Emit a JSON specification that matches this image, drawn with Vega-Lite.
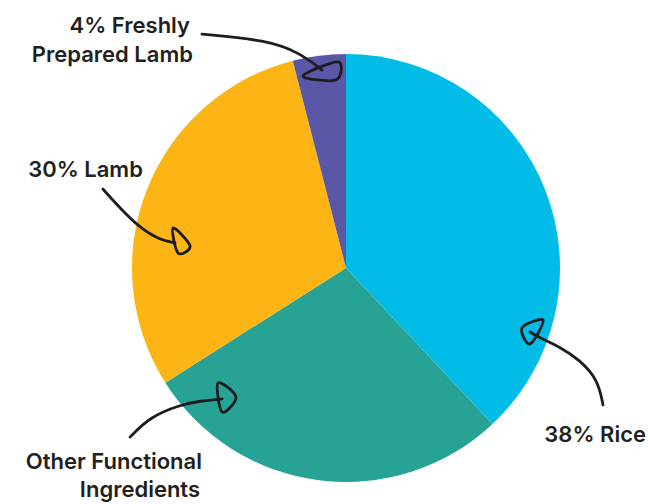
{
  "$schema": "https://vega.github.io/schema/vega-lite/v6.json",
  "autosize": {"type": "none"},
  "width": 428,
  "height": 428,
  "padding": {"left": 132, "top": 54, "right": 88, "bottom": 22},
  "background": "white",
  "config": {"view": {"stroke": null}},
  "datasets": {
    "slices": [
      {"ingredient": "Rice", "percent": 38, "order": 1},
      {"ingredient": "Other Functional Ingredients", "percent": 28, "order": 2},
      {"ingredient": "Lamb", "percent": 30, "order": 3},
      {"ingredient": "Freshly Prepared Lamb", "percent": 4, "order": 4}
    ],
    "labels": [
      {"line": "4% Freshly", "x": -0.729, "y": 1.098},
      {"line": "Prepared Lamb", "x": -0.715, "y": 0.963},
      {"line": "30% Lamb", "x": -0.949, "y": 0.425},
      {"line": "Other Functional", "x": -0.673, "y": -0.939},
      {"line": "Ingredients", "x": -0.682, "y": -1.07},
      {"line": "38% Rice", "x": 1.402, "y": -0.813}
    ],
    "shafts": [
      {"arrow": "fresh", "i": 1, "x": -0.673, "y": 1.093},
      {"arrow": "fresh", "i": 2, "x": -0.369, "y": 1.065},
      {"arrow": "fresh", "i": 3, "x": -0.215, "y": 1.005},
      {"arrow": "fresh", "i": 4, "x": -0.112, "y": 0.925},
      {"arrow": "lamb", "i": 1, "x": -1.136, "y": 0.369},
      {"arrow": "lamb", "i": 2, "x": -1.056, "y": 0.28},
      {"arrow": "lamb", "i": 3, "x": -0.963, "y": 0.187},
      {"arrow": "lamb", "i": 4, "x": -0.869, "y": 0.131},
      {"arrow": "lamb", "i": 5, "x": -0.799, "y": 0.117},
      {"arrow": "other", "i": 1, "x": -1.009, "y": -0.79},
      {"arrow": "other", "i": 2, "x": -0.916, "y": -0.696},
      {"arrow": "other", "i": 3, "x": -0.776, "y": -0.64},
      {"arrow": "other", "i": 4, "x": -0.682, "y": -0.621},
      {"arrow": "other", "i": 5, "x": -0.579, "y": -0.612},
      {"arrow": "rice", "i": 1, "x": 1.201, "y": -0.64},
      {"arrow": "rice", "i": 2, "x": 1.178, "y": -0.523},
      {"arrow": "rice", "i": 3, "x": 1.093, "y": -0.43},
      {"arrow": "rice", "i": 4, "x": 1.0, "y": -0.369},
      {"arrow": "rice", "i": 5, "x": 0.897, "y": -0.322},
      {"arrow": "rice", "i": 6, "x": 0.86, "y": -0.299}
    ],
    "heads": [
      {"arrow": "fresh", "i": 1, "x": -0.201, "y": 0.897},
      {"arrow": "fresh", "i": 2, "x": -0.037, "y": 0.963},
      {"arrow": "fresh", "i": 3, "x": -0.047, "y": 0.879},
      {"arrow": "lamb", "i": 1, "x": -0.808, "y": 0.187},
      {"arrow": "lamb", "i": 2, "x": -0.729, "y": 0.103},
      {"arrow": "lamb", "i": 3, "x": -0.785, "y": 0.07},
      {"arrow": "other", "i": 1, "x": -0.598, "y": -0.537},
      {"arrow": "other", "i": 2, "x": -0.514, "y": -0.603},
      {"arrow": "other", "i": 3, "x": -0.579, "y": -0.673},
      {"arrow": "rice", "i": 1, "x": 0.921, "y": -0.243},
      {"arrow": "rice", "i": 2, "x": 0.822, "y": -0.28},
      {"arrow": "rice", "i": 3, "x": 0.86, "y": -0.355}
    ]
  },
  "layer": [
    {
      "data": {"name": "slices"},
      "mark": {"type": "arc"},
      "encoding": {
        "theta": {"field": "percent", "type": "quantitative", "stack": true},
        "order": {"field": "order", "type": "quantitative"},
        "color": {
          "field": "ingredient",
          "type": "nominal",
          "legend": null,
          "scale": {
            "domain": ["Rice", "Other Functional Ingredients", "Lamb", "Freshly Prepared Lamb"],
            "range": ["#00BCE6", "#27A396", "#FDB515", "#5A58A6"]
          }
        }
      }
    },
    {
      "data": {"name": "shafts"},
      "mark": {"type": "line", "interpolate": "basis", "stroke": "#1d1d1f", "strokeWidth": 2.8, "strokeCap": "round"},
      "encoding": {
        "x": {"field": "x", "type": "quantitative", "scale": {"domain": [-1, 1], "nice": false, "zero": false}, "axis": null},
        "y": {"field": "y", "type": "quantitative", "scale": {"domain": [-1, 1], "nice": false, "zero": false}, "axis": null},
        "detail": {"field": "arrow"},
        "order": {"field": "i"}
      }
    },
    {
      "data": {"name": "heads"},
      "mark": {"type": "line", "interpolate": "cardinal-closed", "stroke": "#1d1d1f", "strokeWidth": 2.8, "strokeCap": "round", "strokeJoin": "round"},
      "encoding": {
        "x": {"field": "x", "type": "quantitative", "scale": {"domain": [-1, 1], "nice": false, "zero": false}, "axis": null},
        "y": {"field": "y", "type": "quantitative", "scale": {"domain": [-1, 1], "nice": false, "zero": false}, "axis": null},
        "detail": {"field": "arrow"},
        "order": {"field": "i"}
      }
    },
    {
      "data": {"name": "labels"},
      "transform": [{"filter": "datum.line != 'Other Functional' && datum.line != 'Ingredients'"}],
      "mark": {"type": "text", "align": "right", "baseline": "alphabetic", "font": "Inter", "fontWeight": 600, "fontSize": 22, "letterSpacing": -0.3, "color": "#231f20"},
      "encoding": {
        "x": {"field": "x", "type": "quantitative", "scale": {"domain": [-1, 1], "nice": false, "zero": false}, "axis": null},
        "y": {"field": "y", "type": "quantitative", "scale": {"domain": [-1, 1], "nice": false, "zero": false}, "axis": null},
        "text": {"field": "line"}
      }
    },
    {
      "data": {"name": "labels"},
      "transform": [{"filter": "datum.line == 'Other Functional' || datum.line == 'Ingredients'"}],
      "mark": {"type": "text", "align": "right", "baseline": "alphabetic", "font": "Inter", "fontWeight": 600, "fontSize": 22, "letterSpacing": 1.8, "color": "#231f20"},
      "encoding": {
        "x": {"field": "x", "type": "quantitative", "scale": {"domain": [-1, 1], "nice": false, "zero": false}, "axis": null},
        "y": {"field": "y", "type": "quantitative", "scale": {"domain": [-1, 1], "nice": false, "zero": false}, "axis": null},
        "text": {"field": "line"}
      }
    }
  ]
}
